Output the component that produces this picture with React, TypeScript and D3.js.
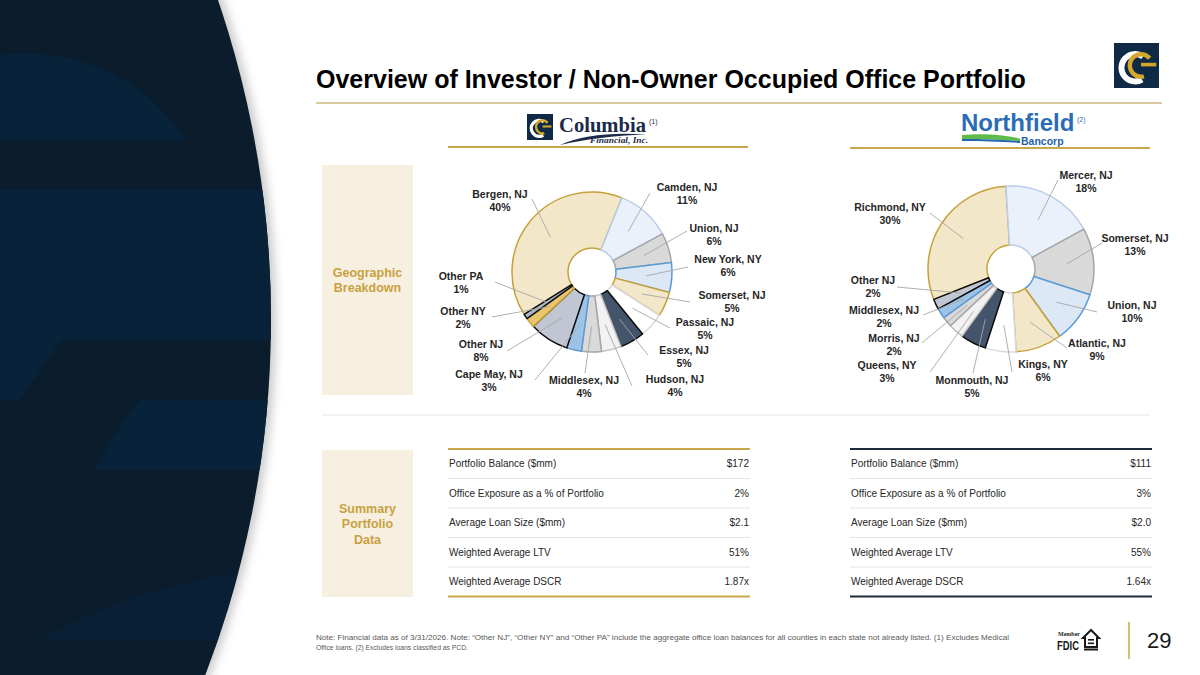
import React from 'react';
import * as d3 from 'd3';

// pie data, clockwise from the first slice
const columbiaCounties = ['Bergen, NJ', 'Camden, NJ', 'Union, NJ', 'New York, NY', 'Somerset, NJ', 'Passaic, NJ', 'Essex, NJ', 'Hudson, NJ', 'Middlesex, NJ', 'Cape May, NJ', 'Other NJ', 'Other NY', 'Other PA'];
const columbiaShares = [40, 11, 6, 6, 5, 5, 5, 4, 4, 3, 8, 2, 1];

const northfieldCounties = ['Richmond, NY', 'Mercer, NJ', 'Somerset, NJ', 'Union, NJ', 'Atlantic, NJ', 'Kings, NY', 'Monmouth, NJ', 'Queens, NY', 'Morris, NJ', 'Middlesex, NJ', 'Other NJ'];
const northfieldShares = [30, 18, 13, 10, 9, 6, 5, 3, 2, 2, 2];

// summary table
const metricNames = ['Portfolio Balance ($mm)', 'Office Exposure as a % of Portfolio', 'Average Loan Size ($mm)', 'Weighted Average LTV', 'Weighted Average DSCR'];
const columbiaMetrics = ['$172', '2%', '$2.1', '51%', '1.87x'];
const northfieldMetrics = ['$111', '3%', '$2.0', '55%', '1.64x'];

// slice styling (excel theme cycle)
const sliceFills = ['#f3e7c9', '#eaf1fb', '#d9d9d9', '#dce8f6', '#f3e7c9', '#ffffff', '#44546a', '#f2f2f2', '#d9d9d9', '#9dc3e6', '#c1c7d2', '#e8c56e', '#adb9ca'];
const sliceStrokes = ['#c8a03a', '#b8cde9', '#a6a6a6', '#5b9bd5', '#c8a03a', '#d9d9d9', '#0d0d0d', '#bfbfbf', '#a6a6a6', '#5b9bd5', '#0d0d0d', '#c8a03a', '#0d0d0d'];

// label placement relative to pie centre: [labelX, labelY, leaderEndX, leaderEndY]
const columbiaLabelLayout = [
  [-92, -71, -60, -73], [95, -78, 58, -79], [122, -37, 95, -41], [136, -6, 96, -5],
  [140, 30, 98, 30], [113, 57, 78, 56], [92, 85, 56, 83], [83, 114, 40, 114],
  [-8, 115, -7, 101], [-103, 109, -57, 108], [-111, 79, -85, 79], [-129, 46, -100, 45],
  [-131, 11, -97, 10],
];
const northfieldLabelLayout = [
  [-121, -55, -81, -56], [75, -87, 47, -89], [124, -24, 91, -26], [121, 43, 86, 43],
  [86, 81, 56, 79], [32, 102, 1, 103], [-39, 118, -38, 104], [-124, 103, -81, 103],
  [-117, 76, -89, 74], [-127, 48, -88, 46], [-138, 18, -114, 18],
];

const FONT = 'Liberation Sans, Arial, sans-serif';
const SERIF = 'Liberation Serif, Times New Roman, serif';
const GOLD = '#c9a84c';

type DonutProps = {
  cx: number; cy: number; r: number;
  names: string[]; shares: number[]; startDeg: number; layout: number[][];
};

function Donut({ cx, cy, r, names, shares, startDeg, layout }: DonutProps) {
  const a0 = (startDeg * Math.PI) / 180;
  const arcs = d3.pie<number>().sort(null).value(d => d).startAngle(a0).endAngle(a0 + 2 * Math.PI)(shares);
  const arc = d3.arc<d3.PieArcDatum<number>>().innerRadius(24).outerRadius(r);
  const leader = d3.arc<d3.PieArcDatum<number>>().innerRadius(r * 0.68).outerRadius(r * 0.68);
  return (
    <g transform={`translate(${cx},${cy})`}>
      {arcs.map((d, i) => (
        <path key={i} d={arc(d) || ''} fill={sliceFills[i]} stroke={sliceStrokes[i]} strokeWidth={1.5} strokeLinejoin="round" />
      ))}
      {arcs.map((d, i) => {
        const [sx, sy] = leader.centroid(d);
        const [lx, ly, ex, ey] = layout[i];
        return (
          <g key={'l' + i}>
            <line x1={sx} y1={sy} x2={ex} y2={ey} stroke="#a6a6a6" strokeWidth={0.9} />
            <text x={lx} y={ly - 3} textAnchor="middle" fontFamily={FONT} fontWeight="bold" fontSize={10.5} fill="#262626">{names[i]}</text>
            <text x={lx} y={ly + 10} textAnchor="middle" fontFamily={FONT} fontWeight="bold" fontSize={10.5} fill="#262626">{shares[i]}%</text>
          </g>
        );
      })}
    </g>
  );
}

function SummaryTable({ x0, x1, values, rule }: { x0: number; x1: number; values: string[]; rule: string }) {
  const y = d3.scaleBand<string>().domain(metricNames).range([449, 596.5]);
  return (
    <g>
      {metricNames.slice(1).map(m => (
        <line key={m} x1={x0} x2={x1} y1={y(m)} y2={y(m)} stroke="#e3e3e3" strokeWidth={1} />
      ))}
      <line x1={x0} x2={x1} y1={449} y2={449} stroke={rule} strokeWidth={2} />
      <line x1={x0} x2={x1} y1={596.5} y2={596.5} stroke={rule} strokeWidth={2} />
      {metricNames.map((m, i) => {
        const cy = (y(m) || 0) + y.bandwidth() / 2 + 3.5;
        return (
          <g key={m}>
            <text x={x0 + 1} y={cy} fontFamily={FONT} fontSize={10} fill="#262626">{m}</text>
            <text x={x1 - 1} y={cy} textAnchor="end" fontFamily={FONT} fontSize={10} fill="#262626">{values[i]}</text>
          </g>
        );
      })}
    </g>
  );
}

function CLogo({ x, y, s }: { x: number; y: number; s: number }) {
  const deg = Math.PI / 180;
  const white = d3.arc()({ innerRadius: s * 0.24, outerRadius: s * 0.37, startAngle: 150 * deg, endAngle: 395 * deg }) || '';
  const gold = d3.arc()({ innerRadius: s * 0.2, outerRadius: s * 0.3, startAngle: 165 * deg, endAngle: 410 * deg }) || '';
  return (
    <g>
      <rect x={x} y={y} width={s} height={s} fill="#0e2a45" />
      <path d={white} transform={`translate(${x + s * 0.47},${y + s * 0.55})`} fill="#ffffff" />
      <path d={gold} transform={`translate(${x + s * 0.6},${y + s * 0.5})`} fill="#d4a72c" />
      <rect x={x + s * 0.6} y={y + s * 0.44} width={s * 0.34} height={s * 0.08} fill="#d4a72c" />
    </g>
  );
}

export default function App() {
  const bgCx = -721;
  const bgCy = 320;
  const bgR = 992;
  return (
    <svg width={1200} height={675} viewBox="0 0 1200 675" style={{ position: 'absolute', left: 0, top: 0 }}>
      <defs>
        <filter id="soft" x="-5%" y="-5%" width="110%" height="110%">
          <feGaussianBlur stdDeviation="5" />
        </filter>
        <clipPath id="bgclip">
          <circle cx={bgCx} cy={bgCy} r={bgR} />
        </clipPath>
      </defs>
      <rect width={1200} height={675} fill="#ffffff" />

      {/* left navy panel with faint watermark */}
      <circle cx={bgCx + 5} cy={bgCy} r={bgR} fill="#8c8c8c" opacity={0.45} filter="url(#soft)" />
      <circle cx={bgCx} cy={bgCy} r={bgR} fill="#0b1c2d" />
      <g clipPath="url(#bgclip)" fill="#08223a">
        <path d="M0,55 C70,48 140,70 185,140 L0,140 Z" />
        <rect x={0} y={190} width={300} height={150} />
        <path d="M140,400 L300,400 L300,470 L95,470 C110,440 125,418 140,400 Z" />
        <path d="M0,340 L60,340 C45,365 30,385 20,400 L0,400 Z" />
        <path d="M300,560 L300,640 L40,640 C90,610 150,585 300,560 Z" opacity={0.6} />
      </g>

      {/* title */}
      <text x={316} y={88} fontFamily={FONT} fontWeight="bold" fontSize={25} fill="#000000">Overview of Investor / Non-Owner Occupied Office Portfolio</text>
      <line x1={316} x2={1162} y1={103} y2={103} stroke="#cdb77f" strokeWidth={1.5} />
      <CLogo x={1114} y={43} s={45} />

      {/* Columbia header */}
      <CLogo x={527} y={114} s={26} />
      <text x={559} y={132} fontFamily={SERIF} fontWeight="bold" fontSize={21} fill="#1c2b4a" textLength={87} lengthAdjust="spacingAndGlyphs">Columbia</text>
      <text x={649} y={124} fontFamily={FONT} fontSize={7} fill="#1c2b4a">(1)</text>
      <path d="M560,145 C582,135 612,132 646,134.5 C612,135.5 588,139 560,145 Z" fill="#1c2b4a" />
      <text x={590} y={142.5} fontFamily={SERIF} fontStyle="italic" fontWeight="bold" fontSize={8} fill="#1c2b4a" textLength={58} lengthAdjust="spacingAndGlyphs">Financial, Inc.</text>
      <line x1={448} x2={748} y1={147} y2={147} stroke={GOLD} strokeWidth={2} />

      {/* Northfield header */}
      <path d="M962,135 C985,133 1004,135 1020,138.5 L1020,141 C1001,139.5 982,139 962,139 Z" fill="#5dbb46" />
      <path d="M962,139 C982,139 1001,139.5 1020,141 L1020,143 C1001,141.5 982,141 962,141 Z" fill="#1f6ab0" />
      <text x={961} y={131} fontFamily={FONT} fontWeight="bold" fontSize={24} fill="#2a6db5">Northfield</text>
      <text x={1077} y={122} fontFamily={FONT} fontSize={7} fill="#2a6db5">(2)</text>
      <text x={1021} y={145} fontFamily={FONT} fontWeight="bold" fontSize={10.5} fill="#1f5fa8">Bancorp</text>
      <line x1={850} x2={1150} y1={148} y2={148} stroke={GOLD} strokeWidth={2} />

      {/* side captions */}
      <rect x={322} y={165} width={91} height={230} fill="#f7f0e1" />
      <text x={367.5} y={277} textAnchor="middle" fontFamily={FONT} fontWeight="bold" fontSize={12.5} fill="#c9a040">Geographic</text>
      <text x={367.5} y={292} textAnchor="middle" fontFamily={FONT} fontWeight="bold" fontSize={12.5} fill="#c9a040">Breakdown</text>
      <line x1={322} x2={1150} y1={415} y2={415} stroke="#e8e8e8" strokeWidth={1} />
      <rect x={322} y={450} width={91} height={147} fill="#f7f0e1" />
      <text x={367.5} y={513} textAnchor="middle" fontFamily={FONT} fontWeight="bold" fontSize={12.5} fill="#c9a040">Summary</text>
      <text x={367.5} y={528} textAnchor="middle" fontFamily={FONT} fontWeight="bold" fontSize={12.5} fill="#c9a040">Portfolio</text>
      <text x={367.5} y={544} textAnchor="middle" fontFamily={FONT} fontWeight="bold" fontSize={12.5} fill="#c9a040">Data</text>

      {/* pies */}
      <Donut cx={592} cy={272} r={80} names={columbiaCounties} shares={columbiaShares} startDeg={-122} layout={columbiaLabelLayout} />
      <Donut cx={1011} cy={269} r={83} names={northfieldCounties} shares={northfieldShares} startDeg={-111.5} layout={northfieldLabelLayout} />

      {/* tables */}
      <SummaryTable x0={448} x1={750} values={columbiaMetrics} rule={GOLD} />
      <SummaryTable x0={850} x1={1152} values={northfieldMetrics} rule="#1f2a3c" />

      {/* footer */}
      <text x={316} y={640} fontFamily={FONT} fontSize={8} fill="#595959" textLength={693} lengthAdjust="spacingAndGlyphs">Note: Financial data as of 3/31/2026. Note: “Other NJ”, “Other NY” and “Other PA” include the aggregate office loan balances for all counties in each state not already listed. (1) Excludes Medical</text>
      <text x={316} y={650} fontFamily={FONT} fontSize={8} fill="#595959" textLength={152} lengthAdjust="spacingAndGlyphs">Office loans. (2) Excludes loans classified as PCD.</text>

      <text x={1058} y={636} fontFamily={SERIF} fontWeight="bold" fontSize={6} fill="#1a1a1a">Member</text>
      <text x={1057} y={650} fontFamily={FONT} fontWeight="bold" fontSize={13} fill="#1a1a1a" textLength={22} lengthAdjust="spacingAndGlyphs">FDIC</text>
      <path d="M1083,638 L1091,630 L1099,638 L1097,638 L1097,647 L1085,647 L1085,638 Z" fill="none" stroke="#1a1a1a" strokeWidth={2} />
      <rect x={1088} y={639} width={6} height={1.6} fill="#1a1a1a" />
      <rect x={1088} y={642.5} width={6} height={1.6} fill="#1a1a1a" />
      <rect x={1084} y={648.5} width={14} height={2} fill="#1a1a1a" />
      <line x1={1129} x2={1129} y1={622} y2={659} stroke={GOLD} strokeWidth={1.5} />
      <text x={1147} y={648} fontFamily={FONT} fontSize={22} fill="#1a1a1a">29</text>
    </svg>
  );
}
